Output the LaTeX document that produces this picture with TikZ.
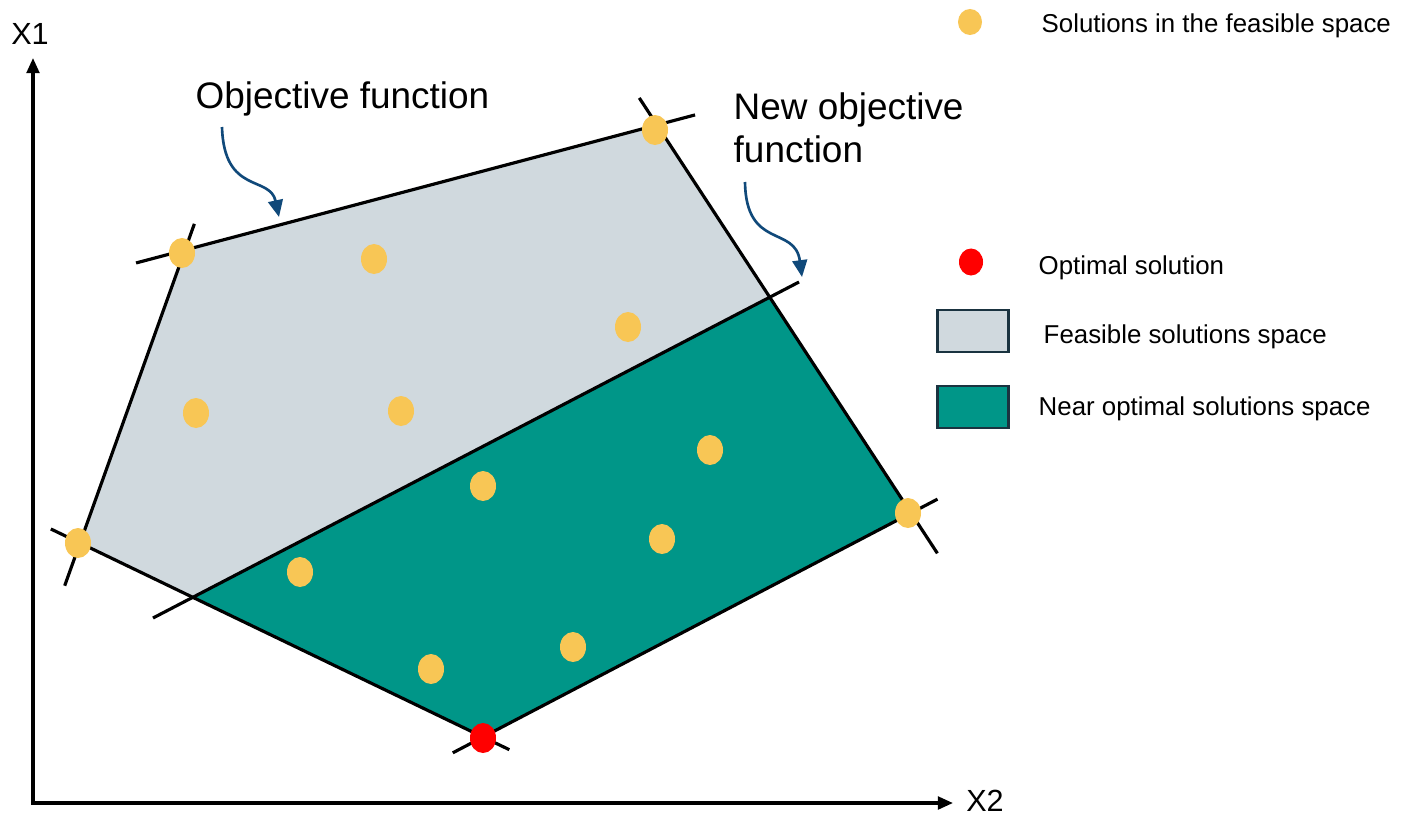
\documentclass[tikz,border=0pt]{standalone}
\usepackage{fontspec}
\setmainfont{Liberation Sans}
\usetikzlibrary{arrows.meta,shapes.geometric}
\definecolor{solyellow}{HTML}{F8C655}
\definecolor{optred}{HTML}{FF0000}
\definecolor{feasgray}{HTML}{D0D9DE}
\definecolor{neargreen}{HTML}{009688}
\definecolor{hintblue}{HTML}{10497A}
\definecolor{legline}{HTML}{1A3340}
\begin{document}
\begin{tikzpicture}[x=0.01cm,y=-0.01cm,
    sol/.style={ellipse,fill=solyellow,minimum width=0.26cm,minimum height=0.30cm,inner sep=0pt},
    opt/.style={sol,fill=optred},
    bound/.style={draw,line width=0.9pt},
    hint/.style={draw=hintblue,line width=0.75pt,-{Triangle[length=4.8pt,width=4.2pt]}},
    axis/.style={line width=0.9pt,{Triangle[length=4.3pt,width=3.6pt]}-{Triangle[length=4.3pt,width=3.6pt]}},
    legbox/.style={draw=legline,line width=0.8pt},
    big/.style={font=\fontsize{10.5}{11.95}\selectfont,inner sep=0pt},
    axlbl/.style={font=\fontsize{8.7}{10}\selectfont,inner sep=0pt},
    small/.style={font=\fontsize{7.35}{8.5}\selectfont,inner sep=0pt}]

    \useasboundingbox (0,0) rectangle (1401,818);

    % Define corners
    \coordinate (A) at (185,250);
    \coordinate (B) at (657,125);
    \coordinate (C) at (911,513);
    \coordinate (D) at (483,737);
    \coordinate (E) at (80,543);
    \coordinate (o1) at (153,618);
    \coordinate (o2) at (799,282);
    \coordinate (P1) at (intersection of E--D and o1--o2);
    \coordinate (P2) at (intersection of B--C and o1--o2);

    % Fill regions
    \fill[feasgray] (A) -- (B) -- (C) -- (D) -- (E) -- cycle;
    \fill[neargreen] (P1) -- (P2) -- (C) -- (D) -- cycle;

    % Draw constraints
    \path[bound]
        (A) edge[shorten <=-14.4pt, shorten >=-11.2pt] (B)
        (A) edge[shorten <=-7.9pt, shorten >=-12.9pt] (E)
        (B) edge[shorten <=-9.2pt, shorten >=-13.7pt] (C)
        (C) edge[shorten <=-8.5pt, shorten >=-9.7pt] (D)
        (E) edge[shorten <=-9.2pt, shorten >=-8.3pt] (D)
        (o1) edge (o2);

    % Axes
    \coordinate (O) at (33,803);
    \coordinate (Y) at (33,58);
    \coordinate (X) at (953,803);
    \draw[axis] (Y) -- (O) -- (X);
    \node[axlbl] (x1) at (30,34) {X1};
    \node[axlbl] (x2) at (985,801) {X2};

    % Define solutions
    \node[sol] (s1) at (182,253) {};
    \node[sol] (s2) at (655,130) {};
    \node[sol] (s3) at (908,513) {};
    \node[sol] (s4) at (78,543) {};
    \node[sol] (s5) at (374,259) {};
    \node[sol] (s6) at (628,327) {};
    \node[sol] (s7) at (196,413) {};
    \node[sol] (s8) at (401,411) {};
    \node[sol] (s9) at (710,450) {};
    \node[sol] (s10) at (483,486) {};
    \node[sol] (s11) at (300,572) {};
    \node[sol] (s12) at (662,539) {};
    \node[sol] (s13) at (573,647) {};
    \node[sol] (s14) at (431,669) {};
    \node[opt] (best) at (483,738) {};

    % Objective labels
    \node[big,anchor=base west] (obj) at (195,108) {Objective function};
    \node[big,anchor=base west,align=left] (newobj) at (733,162) {New objective\\function};
    \coordinate (objs) at (222,127);
    \coordinate (objt) at (279,217);
    \coordinate (news) at (745,182);
    \coordinate (newt) at (802,277);
    \draw[hint] (objs) .. controls (224,195) and (270,175) .. (objt);
    \draw[hint] (news) .. controls (746,250) and (795,225) .. (newt);

    % Legend
    \node[sol,minimum width=0.24cm,minimum height=0.26cm] (lsol) at (970,22) {};
    \node[small,anchor=base west] (tsol) at (1041,32) {Solutions in the feasible space};
    \node[opt,minimum width=0.24cm,minimum height=0.27cm] (lopt) at (971,262) {};
    \node[small,anchor=base west] (topt) at (1038,274) {Optimal solution};
    \node[legbox,fill=feasgray,minimum width=0.71cm,minimum height=0.42cm,inner sep=0pt] (lfeas) at (973,331) {};
    \node[small,anchor=base west] (tfeas) at (1043,343) {Feasible solutions space};
    \node[legbox,fill=neargreen,minimum width=0.71cm,minimum height=0.42cm,inner sep=0pt] (lnear) at (973,407) {};
    \node[small,anchor=base west] (tnear) at (1038,415) {Near optimal solutions space};

\end{tikzpicture}
\end{document}
